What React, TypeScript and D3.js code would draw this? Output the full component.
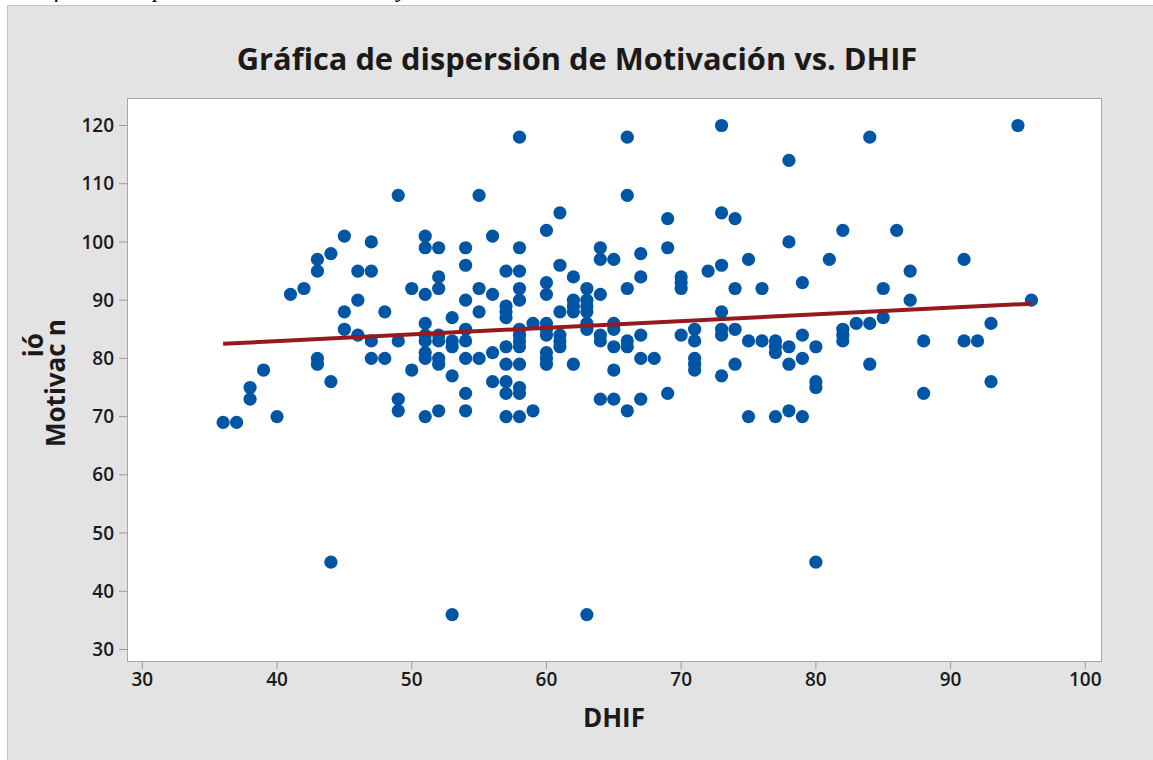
import React from "react";
import * as d3 from "d3";

// DHIF values (x) and the Motivación values observed at each of them
const dhifValues = [
  36, 37, 38, 39, 40, 41, 42, 43, 44, 45, 46, 47, 48, 49, 50, 51, 52, 53, 54, 55,
  56, 57, 58, 59, 60, 61, 62, 63, 64, 65, 66, 67, 68, 69, 70, 71, 72, 73, 74, 75,
  76, 77, 78, 79, 80, 81, 82, 83, 84, 85, 86, 87, 88, 91, 92, 93, 95, 96,
];

const motivacionByDhif = [
  [69], [69], [75, 73], [78], [70], [91], [92], [97, 95, 80, 79], [98, 76, 45], [101, 88, 85],
  [95, 90, 84], [100, 95, 83, 80], [88, 80], [108, 83, 73, 71], [92, 78],
  [101, 99, 91, 86, 84, 83, 81, 80, 70], [99, 94, 92, 84, 83, 80, 79, 71], [87, 83, 82, 77, 36],
  [99, 96, 90, 85, 83, 80, 74, 71], [108, 92, 88, 80],
  [101, 91, 81, 76], [95, 89, 88, 87, 82, 79, 76, 74, 70],
  [118, 99, 95, 92, 90, 85, 84, 83, 82, 79, 75, 74, 70], [86, 71],
  [102, 93, 91, 86, 85, 84, 81, 80, 79], [105, 96, 88, 84, 83, 82], [94, 90, 89, 88, 79],
  [92, 90, 89, 88, 86, 85, 36], [99, 97, 91, 84, 83, 73], [97, 86, 85, 82, 78, 73],
  [118, 108, 92, 83, 82, 71], [98, 94, 84, 80, 73], [80], [104, 99, 74], [94, 93, 92, 84],
  [85, 83, 80, 79, 78], [95], [120, 105, 96, 88, 85, 84, 77], [104, 92, 85, 79], [97, 83, 70],
  [92, 83], [83, 82, 81, 70], [114, 100, 82, 79, 71], [93, 84, 80, 70], [82, 76, 75, 45], [97],
  [102, 85, 84, 83], [86], [118, 86, 79], [92, 87], [102], [95, 90], [83, 74], [97, 83], [83],
  [86, 76], [120], [90],
];

// fitted line, read at its two ends
const fitDhif = [36, 96];
const fitMotivacion = [82.5, 89.4];

const xTicks = [30, 40, 50, 60, 70, 80, 90, 100];
const yTicks = [30, 40, 50, 60, 70, 80, 90, 100, 110, 120];

const caption = "Gráfica de dispersión de la motivación y el DHIF";
const chartTitle = "Gráfica de dispersión de Motivación vs. DHIF";
const xTitle = "DHIF";

const W = 1153;
const H = 760;
const plot = { left: 127, right: 1101, top: 98, bottom: 661 };
const font = "'Open Sans', 'Noto Sans', sans-serif";

export default function App() {
  const x = d3.scaleLinear().domain([30, 100]).range([142.3, 1085.3]);
  const y = d3.scaleLinear().domain([30, 120]).range([649.5, 125.5]);

  const points = dhifValues.flatMap((d, i) =>
    motivacionByDhif[i].map((m) => ({ d, m }))
  );

  const fitPath = d3
    .line<number>()
    .x((_, i) => x(fitDhif[i]))
    .y((v) => y(v))(fitMotivacion);

  return (
    <svg
      width={W}
      height={H}
      style={{ position: "absolute", left: 0, top: 0, background: "#fff" }}
    >
      {/* caption line of the page, mostly above the visible area */}
      <text
        x={16}
        y={-3}
        fontFamily="'Liberation Serif', serif"
        fontStyle="italic"
        fontSize={24}
        fill="#000"
      >
        {caption}
      </text>

      <rect x={7.5} y={5.5} width={W - 7} height={H - 5} fill="#e3e3e3" stroke="#c4c4c4" />

      <rect
        x={plot.left + 0.5}
        y={plot.top + 0.5}
        width={plot.right - plot.left}
        height={plot.bottom - plot.top}
        fill="#fff"
        stroke="#a6a6a6"
      />

      <text
        x={577}
        y={70}
        textAnchor="middle"
        fontFamily={font}
        fontWeight={700}
        fontSize={30.8}
        fill="#1a1a1a"
      >
        {chartTitle}
      </text>

      {/* y axis */}
      <g fontFamily={font} fontWeight={600} fontSize={19} fill="#1a1a1a">
        {yTicks.map((t) => (
          <g key={t}>
            <line x1={plot.left - 8} x2={plot.left} y1={y(t)} y2={y(t)} stroke="#9a9a9a" />
            <text x={plot.left - 13} y={y(t)} dy="0.35em" textAnchor="end">
              {t}
            </text>
          </g>
        ))}
      </g>

      {/* x axis */}
      <g fontFamily={font} fontWeight={600} fontSize={19} fill="#1a1a1a">
        {xTicks.map((t) => (
          <g key={t}>
            <line x1={x(t)} x2={x(t)} y1={plot.bottom + 1} y2={plot.bottom + 8} stroke="#9a9a9a" />
            <text x={x(t)} y={686} textAnchor="middle">
              {t}
            </text>
          </g>
        ))}
      </g>

      <text
        x={(plot.left + plot.right) / 2}
        y={727}
        textAnchor="middle"
        fontFamily={font}
        fontWeight={700}
        fontSize={26}
        fill="#1a1a1a"
      >
        {xTitle}
      </text>

      <text
        transform="translate(65,447) rotate(-90)"
        fontFamily={font}
        fontWeight={700}
        fontSize={26}
        fill="#1a1a1a"
      >
        Motivac
        <tspan dx={-14} dy={-22}>ió</tspan>
        <tspan dx={-3} dy={22}>n</tspan>
      </text>

      {points.map((p, i) => (
        <circle key={i} cx={x(p.d)} cy={y(p.m)} r={6.6} fill="#0055a5" />
      ))}

      <path d={fitPath ?? ""} fill="none" stroke="#941a1d" strokeWidth={4} />
    </svg>
  );
}
